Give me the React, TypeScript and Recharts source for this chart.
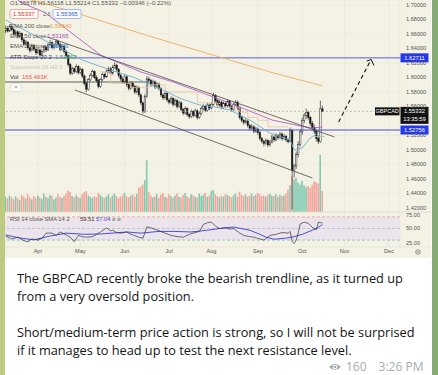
import React from 'react';
import { ComposedChart, Bar, Line, XAxis, YAxis, CartesianGrid, ReferenceLine, ReferenceArea, Cell } from 'recharts';

// ---------- DATA ----------
const firstBarIndex = -16; // trading-day index relative to 1 Apr (index 0)

// daily candles [open, high, low, close]
const candles: number[][] = [
  [1.664,1.672,1.661,1.668],[1.668,1.671,1.662,1.664],[1.664,1.674,1.663,1.670],[1.670,1.673,1.664,1.666],
  [1.666,1.668,1.657,1.660],[1.660,1.666,1.658,1.663],[1.663,1.665,1.654,1.657],[1.657,1.664,1.655,1.661],
  [1.661,1.662,1.649,1.652],[1.652,1.655,1.643,1.646],[1.646,1.652,1.644,1.649],[1.649,1.650,1.638,1.641],
  [1.641,1.644,1.634,1.637],[1.637,1.647,1.636,1.644],[1.644,1.646,1.636,1.639],[1.639,1.641,1.631,1.634],
  [1.634,1.641,1.632,1.638],[1.638,1.640,1.628,1.631],[1.631,1.639,1.629,1.636],[1.636,1.645,1.634,1.642],
  [1.642,1.644,1.635,1.638],[1.638,1.648,1.637,1.645],[1.645,1.652,1.643,1.648],[1.648,1.650,1.639,1.641],
  [1.641,1.647,1.639,1.644],[1.644,1.653,1.642,1.650],[1.650,1.652,1.643,1.646],[1.646,1.648,1.636,1.639],
  [1.639,1.646,1.637,1.643],[1.643,1.645,1.633,1.636],[1.636,1.638,1.627,1.630],[1.630,1.632,1.615,1.618],
  [1.618,1.620,1.603,1.606],[1.606,1.615,1.604,1.612],[1.612,1.614,1.605,1.608],[1.608,1.618,1.606,1.615],
  [1.615,1.617,1.604,1.607],[1.607,1.614,1.605,1.611],[1.611,1.613,1.599,1.602],[1.602,1.604,1.589,1.592],
  [1.592,1.595,1.580,1.584],[1.584,1.599,1.582,1.597],[1.597,1.606,1.595,1.603],[1.603,1.611,1.601,1.608],
  [1.608,1.610,1.598,1.600],[1.600,1.603,1.593,1.596],[1.596,1.598,1.585,1.588],[1.588,1.599,1.586,1.597],
  [1.597,1.607,1.595,1.604],[1.604,1.606,1.598,1.601],[1.601,1.611,1.599,1.609],[1.609,1.615,1.607,1.612],
  [1.612,1.614,1.603,1.606],[1.606,1.617,1.604,1.614],[1.614,1.621,1.612,1.617],[1.617,1.619,1.608,1.611],
  [1.611,1.613,1.600,1.603],[1.603,1.605,1.595,1.598],[1.598,1.601,1.591,1.594],[1.594,1.604,1.592,1.601],
  [1.601,1.603,1.587,1.590],[1.590,1.593,1.582,1.585],[1.585,1.595,1.583,1.592],[1.592,1.594,1.585,1.588],
  [1.588,1.590,1.577,1.580],[1.580,1.589,1.578,1.586],[1.586,1.588,1.573,1.576],[1.576,1.578,1.562,1.565],
  [1.565,1.567,1.550,1.553],[1.553,1.577,1.551,1.574],[1.574,1.602,1.572,1.598],[1.598,1.601,1.592,1.596],
  [1.596,1.598,1.587,1.590],[1.590,1.597,1.588,1.594],[1.594,1.596,1.584,1.587],[1.587,1.594,1.585,1.591],
  [1.591,1.593,1.582,1.585],[1.585,1.587,1.573,1.576],[1.576,1.578,1.569,1.572],[1.572,1.581,1.570,1.578],
  [1.578,1.580,1.566,1.569],[1.569,1.571,1.563,1.566],[1.566,1.574,1.564,1.571],[1.571,1.573,1.560,1.563],
  [1.563,1.571,1.561,1.568],[1.568,1.570,1.557,1.560],[1.560,1.568,1.558,1.565],[1.565,1.567,1.553,1.556],
  [1.556,1.558,1.548,1.551],[1.551,1.560,1.549,1.557],[1.557,1.559,1.546,1.549],[1.549,1.551,1.543,1.546],
  [1.546,1.556,1.544,1.553],[1.553,1.555,1.545,1.548],[1.548,1.557,1.546,1.554],[1.554,1.556,1.542,1.545],
  [1.545,1.553,1.543,1.550],[1.550,1.560,1.548,1.557],[1.557,1.563,1.555,1.560],[1.560,1.562,1.552,1.555],
  [1.555,1.565,1.553,1.562],[1.562,1.564,1.555,1.558],[1.558,1.566,1.556,1.563],[1.563,1.579,1.561,1.575],
  [1.575,1.577,1.565,1.568],[1.568,1.570,1.559,1.562],[1.562,1.569,1.560,1.566],[1.566,1.568,1.556,1.559],
  [1.559,1.567,1.557,1.564],[1.564,1.566,1.558,1.561],[1.561,1.570,1.559,1.567],[1.567,1.569,1.557,1.560],
  [1.560,1.562,1.553,1.556],[1.556,1.566,1.554,1.563],[1.563,1.569,1.561,1.566],[1.566,1.568,1.555,1.558],
  [1.558,1.560,1.542,1.545],[1.545,1.547,1.538,1.541],[1.541,1.543,1.535,1.538],[1.538,1.544,1.536,1.540],
  [1.540,1.542,1.531,1.534],[1.534,1.536,1.527,1.530],[1.530,1.536,1.528,1.532],[1.532,1.534,1.523,1.526],
  [1.526,1.532,1.524,1.529],[1.529,1.531,1.521,1.524],[1.524,1.526,1.513,1.516],[1.516,1.518,1.509,1.512],
  [1.512,1.514,1.505,1.509],[1.509,1.516,1.507,1.513],[1.513,1.515,1.504,1.507],[1.507,1.514,1.505,1.511],
  [1.511,1.521,1.509,1.518],[1.518,1.520,1.511,1.514],[1.514,1.523,1.512,1.520],[1.520,1.522,1.514,1.517],
  [1.517,1.525,1.515,1.522],[1.522,1.524,1.513,1.516],[1.516,1.522,1.514,1.519],[1.519,1.521,1.511,1.514],
  [1.514,1.516,1.509,1.512],[1.512,1.531,1.510,1.527],[1.527,1.529,1.418,1.472],[1.472,1.481,1.462,1.478],
  [1.478,1.498,1.474,1.494],[1.494,1.512,1.490,1.508],[1.508,1.529,1.505,1.525],[1.525,1.545,1.521,1.541],
  [1.541,1.551,1.537,1.548],[1.548,1.557,1.543,1.552],[1.552,1.554,1.541,1.545],[1.545,1.547,1.533,1.537],
  [1.537,1.540,1.527,1.531],[1.531,1.535,1.522,1.526],[1.526,1.528,1.512,1.516],[1.516,1.520,1.508,1.512],
  [1.512,1.568,1.510,1.5568],[1.5568,1.56118,1.55214,1.55332],
];

// daily volume, thousands
const volumesK: number[] = [
  120,105,130,115,100,125,110,95,135,120,105,140,115,100,125,110,
  130,115,105,145,120,110,135,125,100,115,140,120,110,130,145,
  170,160,125,115,135,120,110,140,155,165,130,120,110,125,115,150,
  135,120,110,125,140,115,130,145,125,110,120,135,150,125,115,130,140,120,145,
  190,200,215,250,410,
  160,130,115,125,140,110,135,150,120,115,140,125,110,130,145,120,115,135,150,125,110,140,130,120,115,145,125,135,150,120,130,165,
  175,140,125,115,130,120,140,135,125,115,130,145,120,160,
  135,125,140,120,130,145,125,135,150,140,125,130,120,135,145,130,125,140,120,135,125,130,145,
  175,210,280,255,270,230,215,245,210,195,205,190,215,240,235,225,450,165,
];

const monthLabels = ['Apr', 'May', 'Jun', 'Jul', 'Aug', 'Sep', 'Oct', 'Nov', 'Dec'];
const monthStarts = [0, 21, 43, 65, 86, 109, 131, 152, 174];
// 1.54000 sits under the last-price box in the reference, so it is not drawn
const priceTicks = [1.42, 1.44, 1.46, 1.48, 1.5, 1.52, 1.56, 1.58, 1.6, 1.62, 1.64, 1.66, 1.68, 1.7];
const rsiTicks = [25, 50, 75];

// indicator knots [barIndex, value]
const ema200Knots = [[-16, 1.7155], [1, 1.7041], [19, 1.689], [55, 1.6572], [90, 1.6283], [115, 1.6076], [141, 1.5884]];
const ema50Knots = [[-16, 1.728], [-9, 1.7041], [3, 1.6903], [18, 1.6586], [31, 1.631], [51, 1.6076], [67, 1.5938], [87, 1.5731], [100, 1.5593], [116, 1.5414], [130, 1.5331], [136, 1.5303], [141, 1.5317]];
const ema20Knots = [[-16, 1.6793], [-4, 1.6614], [8, 1.6448], [22, 1.6241], [36, 1.6103], [47, 1.6007], [60, 1.5855], [70, 1.5717], [80, 1.5621], [88, 1.5593], [95, 1.5552], [105, 1.5414], [115, 1.5234], [125, 1.5138], [127, 1.5], [131, 1.5028], [135, 1.5166], [139, 1.5234], [141, 1.527]];
const supertrendSteps = [[31, 1.608], [36, 1.592], [46, 1.586], [55, 1.59], [63, 1.58], [79, 1.565], [89, 1.559], [100, 1.552], [104, 1.545], [109, 1.541], [114, 1.532], [124, 1.532]];
const atrStopSteps = [[137, 1.5186], [142, 1.5186]];
const upperTrendline = [[4.5, 1.6559], [147, 1.518]];
const lowerTrendline = [[18.3, 1.5828], [136, 1.4614]];
const oldSupportLine = [[-16.4, 1.5938], [55, 1.5938]];
const projectionPath = [[149, 1.5386], [164.5, 1.6215]];
const projectionHead = [[163, 1.6228], [165.2, 1.6248], [166.5, 1.6166]];

const rsiKnots = [[-16,37],[-13,32],[-10,35],[-7,29],[-5,27],[-3,32],[0,30],[2,33],[4,42],[7,42],[9,38],[11,44],[14,39],[16,35],[18,27],[20,38],[22,36],[24,35],[27,36],[29,40],[31,44],[34,51],[36,46],[37,47],[39,43],[41,42],[44,44],[46,40],[47,39],[50,35],[52,33],[54,53],[57,50],[60,46],[63,42],[66,38],[69,36],[72,35],[75,40],[77,42],[80,45],[82,57],[84,60],[86,61],[88,54],[90,50],[93,51],[95,49],[97,50],[100,42],[102,38],[105,36],[107,35],[110,32],[112,30],[115,38],[118,40],[121,43],[124,42],[125,45],[126,27],[127,24],[128,30],[129,42],[130,58],[132,61],[134,59],[136,52],[138,48],[139,61],[140,60],[141,59.5]];
const rsiSmaKnots = [[-16,38.8],[-9,33.6],[-2,30.5],[6,37],[14,42],[23,40],[31,40.5],[44,44],[51,42],[60,45],[67,45],[76,44],[84,47],[92,51],[97,52.5],[105,47],[110,40],[113,35],[117,31.5],[122,33],[126,35],[131,40],[136,47],[139,52],[141,57]];

const resistanceLevel = 1.62711;
const supportLevel = 1.52756;
const lastClose = 1.55332;

// ---------- helpers ----------
const barDomain: [number, number] = [-16.36, 179.45];
const priceDomain: [number, number] = [1.41448, 1.7069];
const volDomain: [number, number] = [0, 1669];
const rsiDomain: [number, number] = [18.1, 78.45];

const priceRows = candles.map((c, k) => ({
  i: firstBarIndex + k, o: c[0], h: c[1], l: c[2], c: c[3], v: volumesK[k], up: c[3] >= c[0],
}));
const toPts = (arr: number[][], key = 'p') => arr.map(([i, v]) => ({ i, [key]: v }));

const FONT = '"Liberation Sans", Arial, sans-serif';

const CandleShape = (props: any) => {
  const { x, y, width, height, payload } = props;
  if (!payload || x == null || y == null) return null;
  const cx = x + width / 2;
  const top = Math.min(y, y + height);
  const hh = Math.abs(height);
  const range = payload.h - payload.l;
  const k = range > 0 ? hh / range : 0;
  const bt = top + (payload.h - Math.max(payload.o, payload.c)) * k;
  const bb = top + (payload.h - Math.min(payload.o, payload.c)) * k;
  const up = payload.c >= payload.o;
  return (
    <g>
      <line x1={cx} x2={cx} y1={top} y2={top + hh} stroke="#151515" strokeWidth={0.6} />
      <rect x={cx - 0.75} y={bt} width={1.5} height={Math.max(0.7, bb - bt)} fill={up ? '#ffffff' : '#151515'} stroke="#151515" strokeWidth={0.45} />
    </g>
  );
};

const AxisBox = (props: any) => {
  const { viewBox, text, fill } = props;
  if (!viewBox) return null;
  const x = viewBox.x + viewBox.width;
  const y = viewBox.y;
  return (
    <g>
      <rect x={x + 0.5} y={y - 4.5} width={28} height={9} fill={fill} />
      <text x={x + 14.5} y={y + 2.1} textAnchor="middle" fontSize={5.8} fill="#ffffff" fontFamily={FONT}>{text}</text>
    </g>
  );
};

const LastPriceBox = (props: any) => {
  const { viewBox } = props;
  if (!viewBox) return null;
  const x = viewBox.x + viewBox.width;
  const y = viewBox.y;
  return (
    <g>
      <rect x={x - 25} y={y - 4} width={24.5} height={8} fill="#131313" />
      <text x={x - 12.8} y={y + 2} textAnchor="middle" fontSize={5.5} fill="#ffffff" fontFamily={FONT}>GBPCAD</text>
      <rect x={x + 0.5} y={y - 4.5} width={28} height={17} fill="#131313" />
      <text x={x + 14.5} y={y + 2} textAnchor="middle" fontSize={5.8} fill="#ffffff" fontFamily={FONT}>1.55332</text>
      <text x={x + 14.5} y={y + 9.5} textAnchor="middle" fontSize={5.8} fill="#ffffff" fontFamily={FONT}>13:35:59</text>
    </g>
  );
};

const lineProps = { dot: false, activeDot: false, isAnimationActive: false, xAxisId: 'x', yAxisId: 'price', type: 'linear' as const };

export default function App() {
  return (
    <div style={{ position: 'absolute', left: 0, top: 0, width: 438, height: 375, overflow: 'hidden', background: '#86ab74' }}>
      <div style={{ position: 'absolute', left: 0, top: 0, width: 5, height: 375, background: '#bccb80' }} />
      <div style={{ position: 'absolute', left: 5, top: 0, width: 427, height: 375, background: '#ffffff' }} />
      <div style={{ position: 'absolute', left: 5, top: 0, width: 426, height: 258, background: '#f4f2e4' }} />

      {/* price pane */}
      <div style={{ position: 'absolute', left: 5, top: 0 }}>
        <ComposedChart width={426} height={212} data={priceRows} margin={{ top: 0, right: 0, bottom: 0, left: 0 }} style={{ fontFamily: FONT }}>
          <XAxis xAxisId="x" dataKey="i" type="number" domain={barDomain} ticks={monthStarts} hide allowDataOverflow />
          <XAxis xAxisId="xv" dataKey="i" type="number" domain={barDomain} hide allowDataOverflow />
          <YAxis yAxisId="price" orientation="right" width={31} domain={priceDomain} ticks={priceTicks} allowDataOverflow
            tickLine={false} axisLine={false} tickSize={0} tickMargin={6}
            tick={{ fontSize: 5.6, fill: '#555', fontFamily: FONT }} tickFormatter={(v: number) => v.toFixed(5)} />
          <YAxis yAxisId="vol" hide domain={volDomain} allowDataOverflow />
          <CartesianGrid xAxisId="x" yAxisId="price" stroke="#e9e6d6" strokeWidth={0.6} />
          <Bar xAxisId="xv" yAxisId="vol" dataKey="v" barSize={1.6} isAnimationActive={false}>
            {priceRows.map((r, k) => <Cell key={k} fill={r.up ? '#7fcab1' : '#f3a49c'} />)}
          </Bar>
          <ReferenceLine xAxisId="x" yAxisId="price" y={resistanceLevel} stroke="#5a5ee0" strokeWidth={1} label={<AxisBox text="1.62711" fill="#2437ee" />} />
          <ReferenceLine xAxisId="x" yAxisId="price" y={supportLevel} stroke="#4a4ed8" strokeWidth={1} label={<AxisBox text="1.52756" fill="#2437ee" />} />
          <ReferenceLine xAxisId="x" yAxisId="price" y={lastClose} stroke="#9a9a9a" strokeWidth={0.6} strokeDasharray="2 2" label={<LastPriceBox />} />
          <Line {...lineProps} data={toPts(oldSupportLine)} dataKey="p" stroke="#3c3c3c" strokeWidth={0.8} />
          <Line {...lineProps} data={toPts(ema200Knots)} dataKey="p" stroke="#f0b56c" strokeWidth={1} />
          <Line {...lineProps} data={toPts(supertrendSteps)} dataKey="p" type="stepAfter" stroke="#e6c2a6" strokeWidth={0.8} />
          <Line {...lineProps} data={toPts(atrStopSteps)} dataKey="p" stroke="#9ccf8e" strokeWidth={0.9} />
          <Line {...lineProps} data={toPts(ema50Knots)} dataKey="p" stroke="#b25dc9" strokeWidth={0.9} />
          <Line {...lineProps} data={toPts(ema20Knots)} dataKey="p" stroke="#6aaed6" strokeWidth={0.9} />
          <Line {...lineProps} data={toPts(upperTrendline)} dataKey="p" stroke="#4a4a4a" strokeWidth={0.8} />
          <Line {...lineProps} data={toPts(lowerTrendline)} dataKey="p" stroke="#4a4a4a" strokeWidth={0.8} />
          <Bar xAxisId="x" yAxisId="price" dataKey={(d: any) => [d.l, d.h]} barSize={1.6} shape={<CandleShape />} isAnimationActive={false} />
          <Line {...lineProps} data={toPts(projectionPath)} dataKey="p" stroke="#111" strokeWidth={1.1} strokeDasharray="4 3" />
          <Line {...lineProps} data={toPts(projectionHead)} dataKey="p" stroke="#111" strokeWidth={1} />
        </ComposedChart>
      </div>

      {/* RSI pane + time axis */}
      <div style={{ position: 'absolute', left: 5, top: 212 }}>
        <ComposedChart width={426} height={46} margin={{ top: 0, right: 0, bottom: 0, left: 0 }} style={{ fontFamily: FONT }}>
          <XAxis xAxisId="x" dataKey="i" type="number" domain={barDomain} ticks={monthStarts} allowDataOverflow height={11}
            tickLine={false} axisLine={false} tickSize={0} tickMargin={2} interval={0}
            tick={{ fontSize: 5.6, fill: '#555', fontFamily: FONT }}
            tickFormatter={(v: number) => monthLabels[monthStarts.indexOf(v)] ?? ''} />
          <YAxis yAxisId="rsi" orientation="right" width={31} domain={rsiDomain} ticks={rsiTicks} allowDataOverflow
            tickLine={false} axisLine={false} tickSize={0} tickMargin={6}
            tick={{ fontSize: 5.6, fill: '#555', fontFamily: FONT }} tickFormatter={(v: number) => v.toFixed(2)} />
          <ReferenceArea xAxisId="x" yAxisId="rsi" y1={30} y2={70} fill="#ebe4ec" fillOpacity={1} stroke="none" />
          <CartesianGrid xAxisId="x" yAxisId="rsi" horizontal={false} stroke="#e6e2d6" strokeWidth={0.6} />
          <ReferenceLine xAxisId="x" yAxisId="rsi" y={70} stroke="#ee8c8c" strokeWidth={0.7} strokeDasharray="3 2" />
          <ReferenceLine xAxisId="x" yAxisId="rsi" y={50} stroke="#b4b0b8" strokeWidth={0.7} strokeDasharray="3 2" />
          <ReferenceLine xAxisId="x" yAxisId="rsi" y={30} stroke="#6fb5a3" strokeWidth={0.7} strokeDasharray="3 2" />
          <Line xAxisId="x" yAxisId="rsi" data={toPts(rsiSmaKnots, 'r')} dataKey="r" type="linear" stroke="#4b4fd6" strokeWidth={1} dot={false} activeDot={false} isAnimationActive={false} />
          <Line xAxisId="x" yAxisId="rsi" data={toPts(rsiKnots, 'r')} dataKey="r" type="linear" stroke="#333" strokeWidth={0.7} dot={false} activeDot={false} isAnimationActive={false} />
        </ComposedChart>
      </div>

      {/* legends / overlays */}
      <svg width={438} height={258} style={{ position: 'absolute', left: 0, top: 0 }} fontFamily={FONT}>
        <line x1={5} x2={431} y1={212} y2={212} stroke="#dcd9cc" strokeWidth={0.8} />
        <line x1={5} x2={431} y1={247} y2={247} stroke="#e2dfd2" strokeWidth={0.6} />
        <text x={10} y={5} fontSize={6} fill="#555">O1.55678 H1.56118 L1.55214 C1.55332 −0.00346 (−0.22%)</text>
        <rect x={10} y={9.5} width={28} height={9} rx={1.5} fill="#fbfbf8" stroke="#e57373" strokeWidth={0.6} />
        <text x={13} y={16.2} fontSize={6} fill="#e53935">1.55337</text>
        <text x={43} y={16.2} fontSize={5.5} fill="#666">2.6</text>
        <rect x={53} y={9.5} width={28} height={9} rx={1.5} fill="#fbfbf8" stroke="#6f8ff0" strokeWidth={0.6} />
        <text x={56} y={16.2} fontSize={6} fill="#2f5fe0">1.55365</text>
        <text x={10} y={28} fontSize={6} fill="#555">EMA 200 close</text>
        <text x={50} y={28} fontSize={6} fill="#eea044">1.58840</text>
        <text x={10} y={38} fontSize={6} fill="#555">EMA 50 close</text>
        <text x={47} y={38} fontSize={6} fill="#ab47bc">1.53165</text>
        <text x={10} y={48} fontSize={6} fill="#555">EMA 20 close</text>
        <text x={47} y={48} fontSize={6} fill="#3d8fd6">1.52705</text>
        <text x={10} y={59} fontSize={6} fill="#333">ATR Stops 20 2</text>
        <text x={55} y={59} fontSize={6} fill="#43a047">1.51863</text>
        <text x={10} y={69} fontSize={6} fill="#c9c6bd">Supertrend 10 H3 3</text>
        <text x={10} y={79} fontSize={6} fill="#333">Vol</text>
        <text x={22} y={79} fontSize={6} fill="#ef5350">165.463K</text>
        <rect x={11} y={83.5} width={10} height={8} rx={1.5} fill="#fbfbf8" stroke="#d0cdc2" strokeWidth={0.5} />
        <text x={16} y={90} fontSize={6} fill="#555" textAnchor="middle">^</text>
        <text x={10} y={221} fontSize={5.8} fill="#555">RSI 14 close SMA 14 2</text>
        <text x={80} y={221} fontSize={5.8} fill="#333">59.51</text>
        <text x={96} y={221} fontSize={5.8} fill="#3f4fd0">57.04</text>
        <text x={112} y={221} fontSize={5.8} fill="#777">ø ø</text>
        <circle cx={418} cy={252} r={2.3} fill="none" stroke="#666" strokeWidth={0.7} />
        <circle cx={418} cy={252} r={0.8} fill="#666" />
      </svg>

      {/* message text */}
      <div style={{ position: 'absolute', left: 17, top: 269, fontFamily: '"Open Sans", sans-serif', fontSize: 12.75, lineHeight: '18px', color: '#141414', whiteSpace: 'nowrap' }}>
        <div>The GBPCAD recently broke the bearish trendline, as it turned up</div>
        <div>from a very oversold position.</div>
        <div>&nbsp;</div>
        <div>Short/medium-term price action is strong, so I will not be surprised</div>
        <div>if it manages to head up to test the next resistance level.</div>
      </div>
      <svg width={14} height={10} style={{ position: 'absolute', left: 328, top: 362 }}>
        <path d="M1 5 Q7 -1 13 5 Q7 11 1 5 Z" fill="#a3adb6" />
        <circle cx={7} cy={5} r={2.3} fill="#ffffff" />
        <circle cx={7} cy={5} r={1.3} fill="#a3adb6" />
      </svg>
      <div style={{ position: 'absolute', left: 346, top: 359, fontFamily: '"Open Sans", sans-serif', fontSize: 12, lineHeight: '16px', color: '#a3adb6', whiteSpace: 'nowrap' }}>
        160<span style={{ marginLeft: 12 }}>3:26 PM</span>
      </div>
    </div>
  );
}
